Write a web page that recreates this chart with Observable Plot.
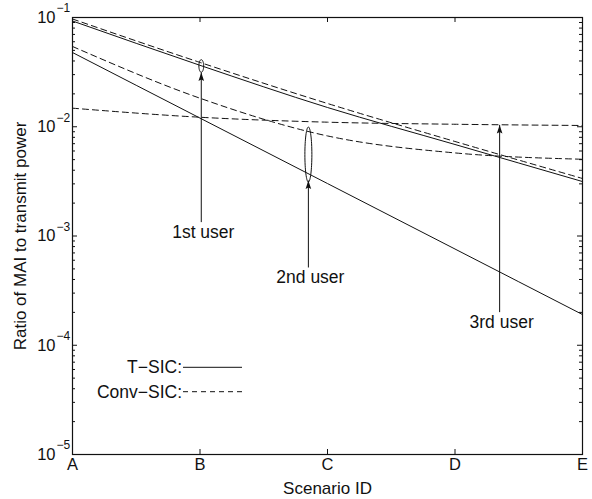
<!DOCTYPE html>
<html><head><meta charset="utf-8">
<script src="https://cdn.jsdelivr.net/npm/d3@7"></script>
<script src="https://cdn.jsdelivr.net/npm/@observablehq/plot@0.6"></script>
<style>
html,body{margin:0;padding:0;background:#fff;}
#chart{width:592px;height:499px;position:relative;}
</style></head><body><div id="chart"></div>
<script>
// ---- data ----
const categories = ["A", "B", "C", "D", "E"];
const tsicUser1 = [0.0929, 0.0365, 0.0150, 0.00688, 0.00315];
const tsicUser2 = [0.0478, 0.0120, 0.00302, 0.00076, 0.000191];
const convUser1 = [0.0969, 0.0388, 0.01633, 0.00733, 0.00336];
const convUser2 = [0.0543, 0.01824, 0.00824, 0.00576, 0.00504];
const convUser3 = [0.01479, 0.01222, 0.01101, 0.01054, 0.01027];

const yMajorTicks = [1e-1, 1e-2, 1e-3, 1e-4, 1e-5];
const yTickExponents = ["\u22121", "\u22122", "\u22123", "\u22124", "\u22125"];
const yMinorTicks = [1e-5, 1e-4, 1e-3, 1e-2].flatMap(p => [2,3,4,5,6,7,8,9].map(m => m * p));

const userLabels = ["1st user", "2nd user", "3rd user"];
const arrowX = [1.01, 1.85, 3.35];
const arrowTip = [0.0314, 0.00322, 0.0104];
const arrowTail = [0.00134, 0.000515, 0.000201];
const ellipseX = [1.01, 1.85];
const ellipseY = [0.036, 0.00557];
const legendLabels = ["T\u2212SIC:", "Conv\u2212SIC:"];
const xLabel = "Scenario ID";
const yLabel = "Ratio of MAI to transmit power";

// ---- tables ----
const series = [
  {name: "T-SIC user 1", method: "T-SIC", values: tsicUser1},
  {name: "T-SIC user 2", method: "T-SIC", values: tsicUser2},
  {name: "Conv-SIC user 1", method: "Conv-SIC", values: convUser1},
  {name: "Conv-SIC user 2", method: "Conv-SIC", values: convUser2},
  {name: "Conv-SIC user 3", method: "Conv-SIC", values: convUser3}
];
const rows = series.flatMap(s => s.values.map((v, i) => ({x: i, y: v, series: s.name, method: s.method})));
const annotations = userLabels.map((label, i) => ({label, x: arrowX[i], tip: arrowTip[i], tail: arrowTail[i]}));
const ellipses = ellipseX.map((x, i) => ({x, y: ellipseY[i]}));

const W = 592, H = 499, mL = 72, mR = 10, mT = 17, mB = 45;
const plotW = W - mL - mR, plotH = H - mT - mB;
const ink = "#111";
const font = "Liberation Sans, Arial, Helvetica, sans-serif";

function ellipseSymbol(rx, ry) {
  const k = 0.5523;
  return {draw(ctx) {
    ctx.moveTo(rx, 0);
    ctx.bezierCurveTo(rx, ry * k, rx * k, ry, 0, ry);
    ctx.bezierCurveTo(-rx * k, ry, -rx, ry * k, -rx, 0);
    ctx.bezierCurveTo(-rx, -ry * k, -rx * k, -ry, 0, -ry);
    ctx.bezierCurveTo(rx * k, -ry, rx, -ry * k, rx, 0);
    ctx.closePath();
  }};
}
const arrowHead = {draw(ctx) {
  ctx.moveTo(0, 0); ctx.lineTo(2.8, 8.5); ctx.lineTo(0, 7); ctx.lineTo(-2.8, 8.5); ctx.closePath();
}};

const chart = Plot.plot({
  width: W, height: H,
  marginLeft: mL, marginRight: mR, marginTop: mT, marginBottom: mB,
  style: {fontFamily: font, fontSize: "16px", background: "white", overflow: "visible", color: ink},
  x: {type: "linear", domain: [0, 4], axis: null},
  y: {type: "log", domain: [1e-5, 1e-1], axis: null},
  marks: [
    // inward ticks
    Plot.tickY(yMajorTicks, {y: d => d, insetRight: plotW - 5, stroke: ink}),
    Plot.tickY(yMajorTicks, {y: d => d, insetLeft: plotW - 5, stroke: ink}),
    Plot.tickY(yMinorTicks, {y: d => d, insetRight: plotW - 3, stroke: ink}),
    Plot.tickY(yMinorTicks, {y: d => d, insetLeft: plotW - 3, stroke: ink}),
    Plot.tickX(categories, {x: (d, i) => i, insetTop: plotH - 5, stroke: ink}),
    Plot.tickX(categories, {x: (d, i) => i, insetBottom: plotH - 5, stroke: ink}),
    // tick labels
    Plot.text(yMajorTicks, {y: d => d, frameAnchor: "left", text: () => "10", textAnchor: "end", dx: -17, fontSize: 16.5, fill: ink}),
    Plot.text(yMajorTicks, {y: d => d, frameAnchor: "left", text: (d, i) => yTickExponents[i], textAnchor: "start", dx: -16, dy: -9, fontSize: 12, fill: ink}),
    Plot.text(categories, {x: (d, i) => i, frameAnchor: "bottom", text: d => d, dy: 15, fontSize: 16.5, fill: ink}),
    // axis titles
    Plot.text([xLabel], {frameAnchor: "bottom", text: d => d, textAnchor: "middle", dy: 39, lineAnchor: "bottom", fontSize: 17, fill: ink}),
    Plot.text([yLabel], {frameAnchor: "left", text: d => d, textAnchor: "middle", lineAnchor: "middle", dx: -52, rotate: -90, fontSize: 17, fill: ink}),
    // data lines
    Plot.line(rows.filter(d => d.method === "T-SIC"), {x: "x", y: "y", z: "series", stroke: ink, strokeWidth: 1, curve: "monotone-x"}),
    Plot.line(rows.filter(d => d.method === "Conv-SIC"), {x: "x", y: "y", z: "series", stroke: ink, strokeWidth: 1, strokeDasharray: "6,4", curve: "monotone-x"}),
    // annotations
    Plot.dot([ellipses[0]], {x: "x", y: "y", symbol: ellipseSymbol(2.4, 6.3), stroke: ink, fill: "none", strokeWidth: 1}),
    Plot.dot([ellipses[1]], {x: "x", y: "y", symbol: ellipseSymbol(3.5, 27.5), stroke: ink, fill: "none", strokeWidth: 1}),
    Plot.link(annotations, {x1: "x", x2: "x", y1: "tail", y2: "tip", stroke: ink, strokeWidth: 1}),
    Plot.dot(annotations, {x: "x", y: "tip", symbol: arrowHead, fill: ink, stroke: "none"}),
    Plot.text(annotations, {x: "x", y: "tail", text: "label", lineAnchor: "top", dy: 3, dx: 2, fontSize: 17.5, fill: ink}),
    Plot.frame({stroke: ink, strokeWidth: 1.2})
  ]
});
document.getElementById("chart").appendChild(chart);

// legend (drawn inside the plot's svg)
const svg = d3.select(chart.tagName.toLowerCase() === "svg" ? chart : chart.querySelector("svg"));
const lg = svg.append("g").attr("font-family", font).attr("font-size", 17.5).attr("fill", ink);
const legendRows = [
  {label: legendLabels[0], dash: null, y: 367.3},
  {label: legendLabels[1], dash: "5,4", y: 391.7}
];
legendRows.forEach(r => {
  lg.append("text").attr("x", 182).attr("y", r.y).attr("dy", "0.35em").attr("text-anchor", "end").text(r.label);
  lg.append("line").attr("x1", 183).attr("x2", 242).attr("y1", r.y).attr("y2", r.y)
    .attr("stroke", ink).attr("stroke-width", 1).attr("stroke-dasharray", r.dash);
});
</script></body></html>
